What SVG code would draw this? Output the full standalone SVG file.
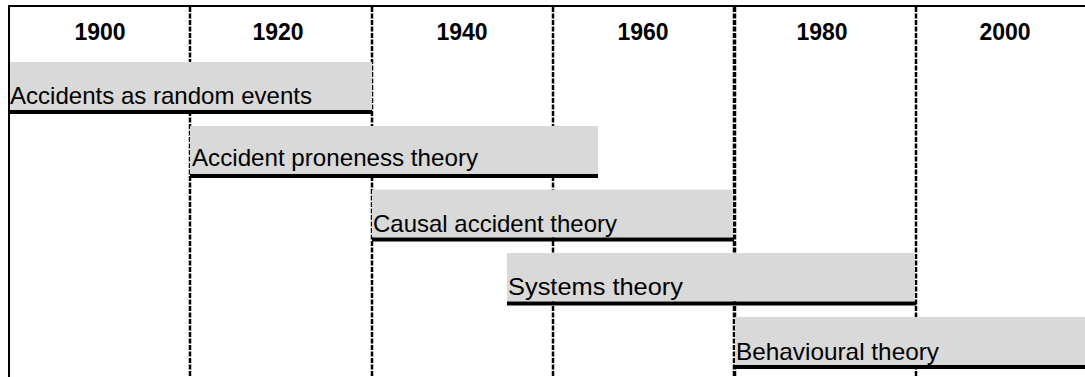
<svg xmlns="http://www.w3.org/2000/svg" width="1085" height="377" viewBox="0 0 1085 377">
  <style>
    .hdr { font-family: "Liberation Sans", Arial, sans-serif; font-size: 23px; font-weight: bold; fill: #000; text-anchor: middle; }
    .lbl { font-family: "Liberation Sans", Arial, sans-serif; font-size: 24px; fill: #000; }
    .bar { fill: #d9d9d9; }
    .base { stroke: #000; stroke-width: 4; }
    .grid { stroke: #000; stroke-width: 2.5; stroke-dasharray: 5 1.5; fill: none; }
    .frame { stroke: #000; stroke-width: 2; fill: none; }
  </style>
  <rect x="0" y="0" width="1085" height="377" fill="#fff"/>
  <g id="grid">
    <line class="frame" x1="8" y1="6" x2="1085" y2="6"/>
    <line class="frame" x1="9" y1="5" x2="9" y2="377"/>
    <line class="grid" x1="190" y1="7" x2="190" y2="377"/>
    <line class="grid" x1="372" y1="7" x2="372" y2="377"/>
    <line class="grid" x1="553" y1="7" x2="553" y2="377"/>
    <line class="grid" x1="734.5" y1="7" x2="734.5" y2="377" style="stroke-width:3.5"/>
    <line class="grid" x1="916" y1="7" x2="916" y2="377"/>
  </g>
  <g id="headers">
    <text class="hdr" x="100" y="40">1900</text>
    <text class="hdr" x="278" y="40">1920</text>
    <text class="hdr" x="462" y="40">1940</text>
    <text class="hdr" x="643" y="40">1960</text>
    <text class="hdr" x="822" y="40">1980</text>
    <text class="hdr" x="1005" y="40">2000</text>
  </g>
  <g id="random-events">
    <rect class="bar" x="10" y="62" width="362" height="48"/>
    <line class="base" x1="8" y1="112" x2="372" y2="112"/>
    <text class="lbl" x="10" y="103.5" textLength="302" lengthAdjust="spacingAndGlyphs">Accidents as random events</text>
  </g>
  <g id="proneness">
    <rect class="bar" x="190" y="126" width="408" height="48"/>
    <line class="base" x1="190" y1="176" x2="598" y2="176"/>
    <text class="lbl" x="192" y="166" textLength="286" lengthAdjust="spacingAndGlyphs">Accident proneness theory</text>
  </g>
  <g id="causal">
    <rect class="bar" x="372" y="189.5" width="361" height="48"/>
    <line class="base" x1="372" y1="239.5" x2="734" y2="239.5"/>
    <text class="lbl" x="373" y="231.5" textLength="244" lengthAdjust="spacingAndGlyphs">Causal accident theory</text>
  </g>
  <g id="systems">
    <rect class="bar" x="507" y="253" width="408" height="48.5"/>
    <line class="base" x1="507" y1="303.5" x2="916" y2="303.5"/>
    <text class="lbl" x="508" y="295" textLength="175" lengthAdjust="spacingAndGlyphs">Systems theory</text>
  </g>
  <g id="behavioural">
    <rect class="bar" x="735" y="317" width="350" height="48"/>
    <line class="base" x1="734" y1="367" x2="1085" y2="367"/>
    <text class="lbl" x="736" y="359.5" textLength="203" lengthAdjust="spacingAndGlyphs">Behavioural theory</text>
  </g>
</svg>
